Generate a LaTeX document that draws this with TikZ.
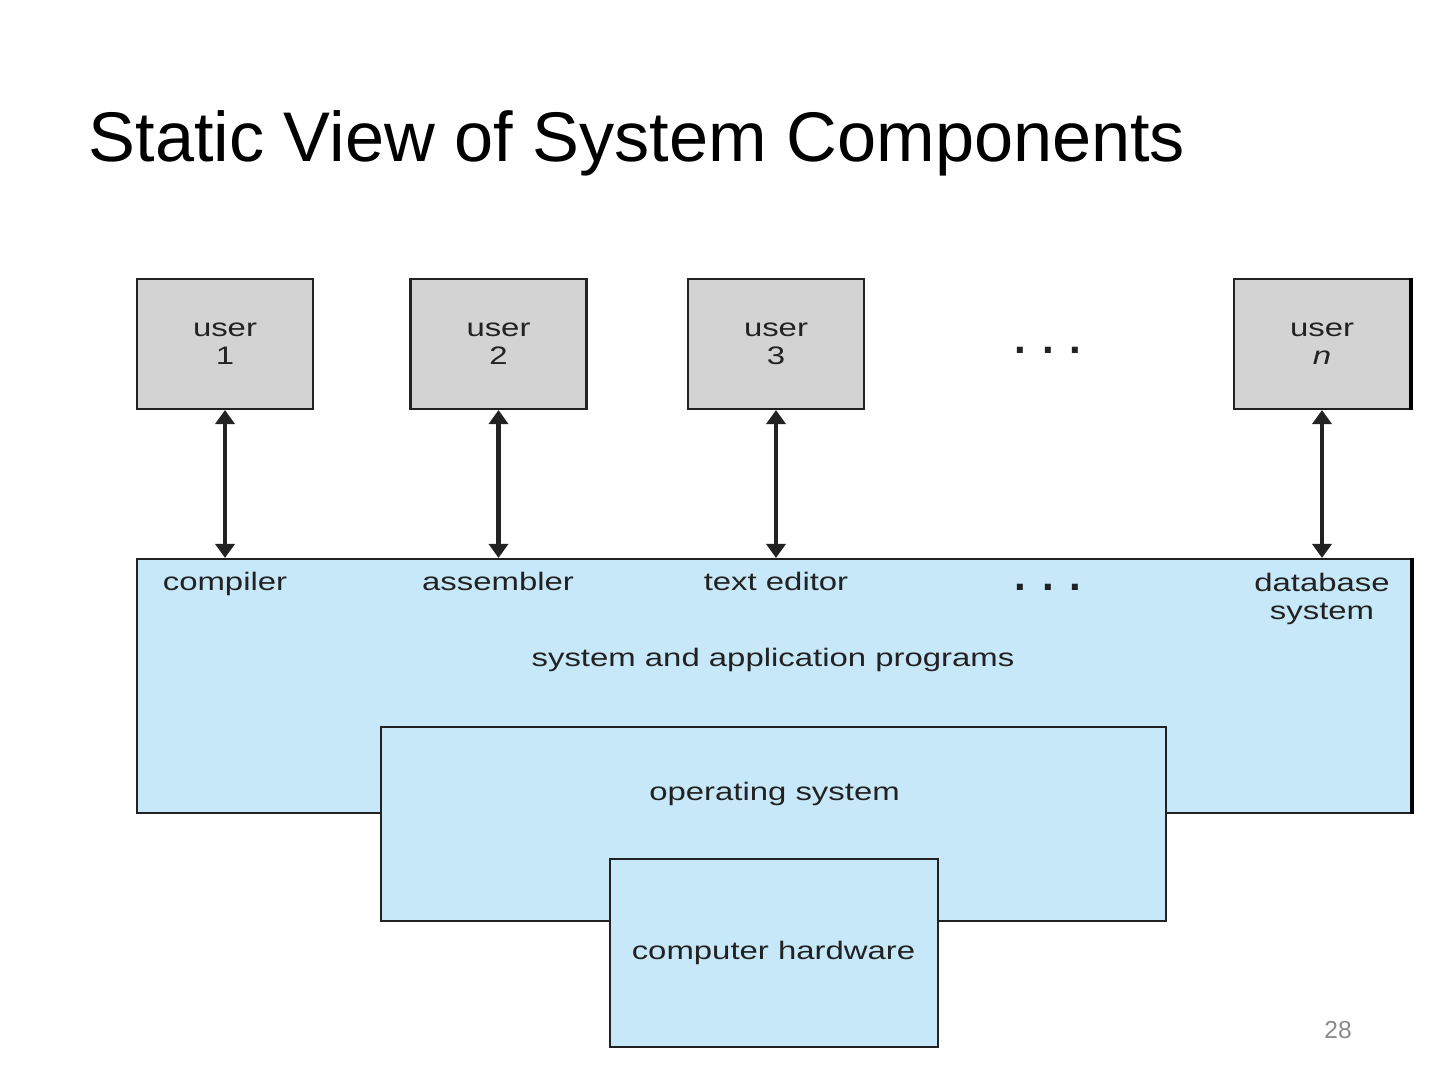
\documentclass[tikz,border=0pt]{standalone}
\usepackage{fontspec}
\setmainfont{Liberation Sans}
\newfontfamily\figfont[FakeStretch=1.3]{Liberation Sans}
\usepackage{tikz}
\usetikzlibrary{arrows.meta}
\definecolor{ink}{HTML}{222222}
\definecolor{usergray}{HTML}{D3D3D3}
\definecolor{layerblue}{HTML}{C7E8F8}
\definecolor{pagegray}{HTML}{8A8A8A}
\tikzset{
  userbox/.style={draw=ink, fill=usergray, line width=0.6pt, minimum width=1.76cm, minimum height=1.30cm, inner sep=0pt, align=center, text=ink, font=\figfont\fontsize{7.2}{8}\selectfont},
  layer/.style={draw=ink, fill=layerblue, line width=0.6pt, inner sep=0pt},
  lab/.style={text=ink, font=\figfont\fontsize{7.2}{8}\selectfont, align=center, inner sep=0pt},
  link/.style={draw=ink, line width=1.2pt, {Triangle[width=1.9mm,length=1.4mm]}-{Triangle[width=1.9mm,length=1.4mm]}},
  rim/.style={draw=black, line width=1.3pt},
  dots/.style={text=ink, font=\fontsize{12}{12}\selectfont\bfseries, inner sep=0pt}
}
\begin{document}
\begin{tikzpicture}
  \useasboundingbox (0,0) rectangle (14.4,10.8);
  \node[anchor=base west, inner sep=0pt, font=\fontsize{20}{24}\selectfont] (title) at (0.88,9.18) {Static View of System Components};
  % users
  \node[userbox] (u1) at (2.25,7.36) {user\\1};
  \node[userbox] (u2) at (4.985,7.36) {user\\2};
  \node[userbox] (u3) at (7.76,7.36) {user\\3};
  \node[userbox] (un) at (13.22,7.36) {user\\\textit{n}};
  \node[dots] (udots) at (10.48,7.30) {. . .};
  \draw[rim] (un.north east) -- (un.south east);
  % layers
  \node[layer, minimum width=12.74cm, minimum height=2.54cm] (progs) at (7.74,3.94) {};
  \node[layer, minimum width=7.85cm, minimum height=1.94cm] (os) at (7.735,2.56) {};
  \node[layer, minimum width=3.28cm, minimum height=1.88cm] (hw) at (7.74,1.27) {};
  \draw[rim] (progs.north east) -- (progs.south east);
  \node[lab, anchor=base] (comp) at (2.25,4.89) {compiler};
  \node[lab, anchor=base] (asm) at (4.98,4.89) {assembler};
  \node[lab, anchor=base] (edit) at (7.76,4.89) {text editor};
  \node[dots] (pdots) at (10.48,4.93) {. . .};
  \node[lab] (db) at (13.22,4.81) {database\\system};
  \node[lab, anchor=base] (sap) at (7.73,4.13) {system and application programs};
  \node[lab, anchor=base] (ostext) at (7.745,2.79) {operating system};
  \node[lab, anchor=base] (hwtext) at (7.735,1.20) {computer hardware};
  % links
  \foreach \u in {u1,u2,u3,un}
    \draw[link] (\u.south) -- (\u.south |- progs.north);
  \node[text=pagegray, font=\fontsize{7}{8}\selectfont] (page) at (13.38,0.50) {28};
\end{tikzpicture}
\end{document}
